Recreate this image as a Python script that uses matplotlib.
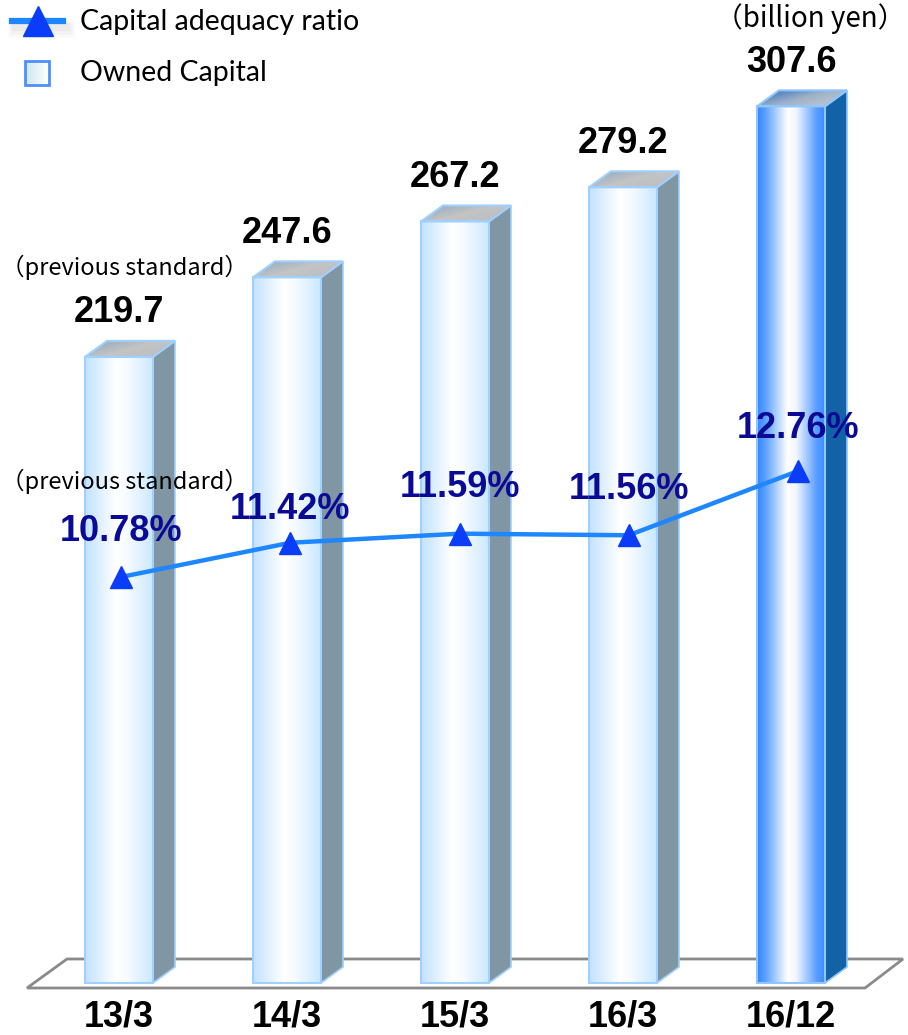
import numpy as np
import matplotlib
matplotlib.use("Agg")
import matplotlib.pyplot as plt
from matplotlib.colors import LinearSegmentedColormap
from matplotlib.patches import Polygon, Rectangle
from matplotlib.lines import Line2D

## data
periods = ['13/3', '14/3', '15/3', '16/3', '16/12']
owned_capital = [219.7, 247.6, 267.2, 279.2, 307.6]     # billion yen
adequacy_ratio = [10.78, 11.42, 11.59, 11.56, 12.76]    # %
ratio_label_raise = [33, 24, 33, 33, 31]                # pt above marker

## layout (pixels of a 908x1035 canvas)
W, H = 908, 1035
BASE_PX = 983          # bar bottom
BAR_X0, BAR_STEP = 119, 168
PX_PER_UNIT = 2.85     # pixels per billion yen
BAR_W = 68 / BAR_STEP
DX, DY = 22 / BAR_STEP, 16 / PX_PER_UNIT   # depth of the 3d boxes
LINE_X0, LINE_STEP = 121, 169.25
R_PX, R_VAL, R_SCALE = 577, 10.78, 53.5    # pixel row of R_VAL, px per %

PT = 72 / 100  # px -> pt

light_front = LinearSegmentedColormap.from_list(
    'lf', [(0, '#c2e2ff'), (0.45, '#ffffff'), (0.62, '#f6fbff'), (1, '#c9e8ff')])
dark_front = LinearSegmentedColormap.from_list(
    'df', [(0, '#3386ff'), (0.12, '#5aa0ff'), (0.45, '#ffffff'), (0.58, '#f2f6ff'),
           (0.88, '#5a9dff'), (1, '#3a8cff')])
light_top = LinearSegmentedColormap.from_list('lt', ['#8ea6bf', '#c4c4c4', '#b8bcc2'])
dark_top = LinearSegmentedColormap.from_list('dt', ['#2a68b8', '#9fb2c8', '#c8ccd2'])


fig = plt.figure(figsize=(W / 100, H / 100), dpi=100)

## main axes: bars in data units
ax = fig.add_axes([0, 0, 1, 1])
ax.set_axis_off()


def px2data(px, py):
    return (px - BAR_X0) / BAR_STEP, (BASE_PX - py) / PX_PER_UNIT


## floor
floor = [px2data(67, 959), px2data(903, 959), px2data(865, 988), px2data(27, 988)]
ax.add_patch(Polygon(floor, closed=True, fc='white', ec='#8a8a8a', lw=2, zorder=1))

hgrad = np.linspace(0, 1, 256).reshape(1, -1)
yy, xx = np.mgrid[0:1:64j, 0:1:64j]
dgrad = (xx * 0.6 + yy * 0.4)

for i, v in enumerate(owned_capital):
    last = (i == len(owned_capital) - 1)
    x0, x1 = i - BAR_W / 2, i + BAR_W / 2
    edge = '#8fc6ff' if last else '#9fd0ff'
    side_c = '#1262a6' if last else '#8096a2'
    # side face
    ax.add_patch(Polygon([(x1, 0), (x1 + DX, DY), (x1 + DX, v + DY), (x1, v)],
                         closed=True, fc=side_c, ec=edge, lw=1.2, zorder=2))
    # top face
    top = Polygon([(x0, v), (x0 + DX, v + DY), (x1 + DX, v + DY), (x1, v)],
                  closed=True, fc='none', ec=edge, lw=1.5, zorder=4)
    ax.add_patch(top)
    im = ax.imshow(dgrad, cmap=dark_top if last else light_top, origin='upper',
                   extent=(x0, x1 + DX, v, v + DY), aspect='auto',
                   interpolation='bilinear', zorder=3)
    im.set_clip_path(top)
    # front face
    ax.imshow(hgrad, cmap=dark_front if last else light_front,
              extent=(x0, x1, 0, v), aspect='auto', interpolation='bilinear', zorder=3)
    ax.add_patch(Rectangle((x0, 0), BAR_W, v, fill=False, ec=edge, lw=1.5, zorder=4))
    # value label
    ax.annotate(f'{v:.1f}', (i, v), xytext=(0, 44 * PT), textcoords='offset points',
                ha='center', va='center', fontsize=26, fontweight='bold',
                family='Liberation Sans', color='black', zorder=6)
    # period label
    ax.annotate(periods[i], (i, 0), xytext=(0, -34 * PT), textcoords='offset points',
                ha='center', va='center', fontsize=26, fontweight='bold',
                family='Liberation Sans', color='black')

ax.set_xlim(-BAR_X0 / BAR_STEP, (W - BAR_X0) / BAR_STEP)
ax.set_ylim(-(H - BASE_PX) / PX_PER_UNIT, BASE_PX / PX_PER_UNIT)

## ratio line on its own axes
ax2 = fig.add_axes([0, 0, 1, 1])
ax2.set_axis_off()
ax2.patch.set_alpha(0)
xs = np.arange(len(adequacy_ratio))
ax2.plot(xs, adequacy_ratio, color='#1e86ff', lw=3.2, zorder=2)
ax2.plot(xs, adequacy_ratio, ls='none', marker='^', ms=16, color='#0b3cf8', zorder=3)
for i, r in enumerate(adequacy_ratio):
    ax2.annotate(f'{r:.2f}%', (i, r), xytext=(0, ratio_label_raise[i]),
                 textcoords='offset points', ha='center', va='center',
                 fontsize=26, fontweight='bold', family='Liberation Sans',
                 color='#0a0a96')
ax2.set_xlim(-LINE_X0 / LINE_STEP, (W - LINE_X0) / LINE_STEP)
ax2.set_ylim(R_VAL - (H - R_PX) / R_SCALE, R_VAL + R_PX / R_SCALE)

## legend and notes, in pixel coords
ov = fig.add_axes([0, 0, 1, 1])
ov.set_axis_off()
ov.patch.set_alpha(0)

# shadow under the line icon
for k, a in enumerate([0.06, 0.05, 0.04]):
    ov.add_line(Line2D([16, 66], [27 + k, 27 + k], color='gray', lw=6 + 3 * k, alpha=a))
ov.add_line(Line2D([12, 63], [21, 21], color='#1e86ff', lw=4.5))
ov.add_line(Line2D([38], [21], ls='none', marker='^', ms=22, color='#0b3cf8'))
sq = LinearSegmentedColormap.from_list('sq', ['#cfe6ee', '#ffffff'])
ov.imshow(hgrad, cmap=sq, extent=(25, 49, 85, 61), aspect='auto', zorder=2)
ov.add_patch(Rectangle((25, 61), 24, 24, fill=False, ec='#4d8fff', lw=2, zorder=3))
ov.text(80, 22, 'Capital adequacy ratio', fontsize=20.5, family='Lato',
        ha='left', va='center', color='black')
ov.text(80, 73, 'Owned Capital', fontsize=20.5, family='Lato',
        ha='left', va='center', color='black')

cjk = ['Noto Sans CJK JP', 'DejaVu Sans']
ov.text(1, 267, '（previous standard）', fontsize=17, family=cjk,
        ha='left', va='center', color='black')
ov.text(1, 481, '（previous standard）', fontsize=17, family=cjk,
        ha='left', va='center', color='black')
ov.text(905, 19, '（billion yen）', fontsize=20, family=cjk,
        ha='right', va='center', color='black')
ov.set_xlim(0, W)
ov.set_ylim(H, 0)

plt.savefig('out.png', dpi=100)
